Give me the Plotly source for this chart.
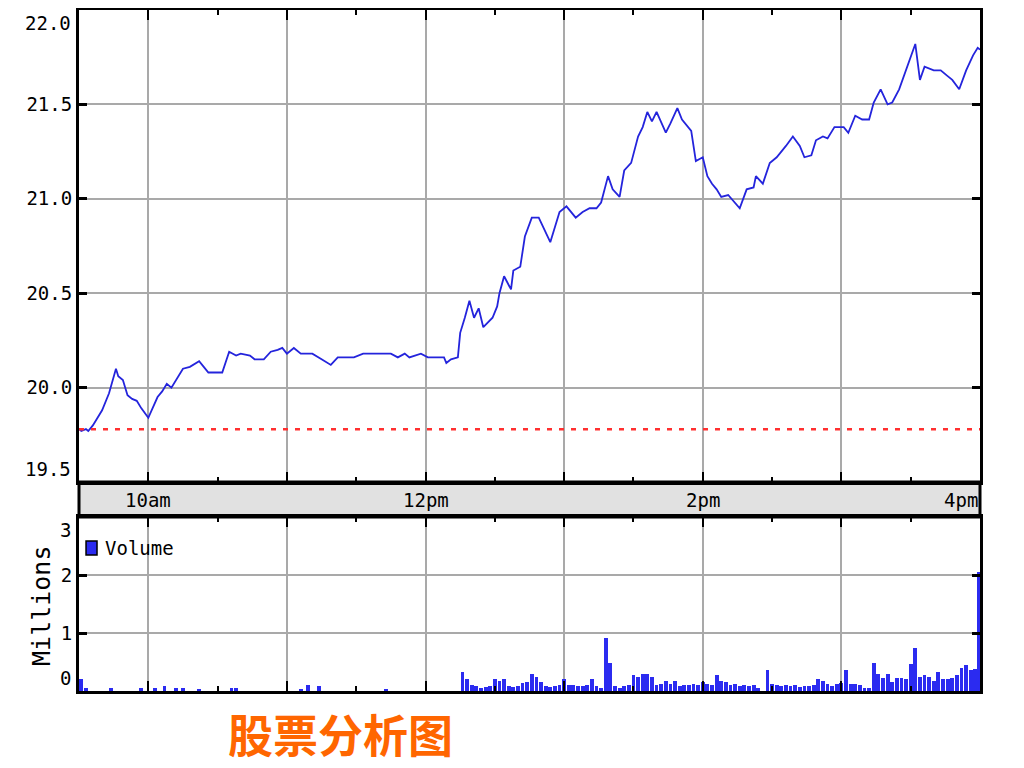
import plotly.graph_objects as go

DAY = "2024-01-02"

# ---- price series (time, price) ----
price_times = [
    "09:30", "09:31", "09:33", "09:34", "09:36", "09:40", "09:43", "09:45", "09:46", "09:47",
    "09:49", "09:51", "09:53", "09:55", "09:57", "10:00", "10:02", "10:04", "10:06", "10:08",
    "10:10", "10:12", "10:15", "10:18", "10:22", "10:24", "10:26", "10:32", "10:35", "10:38",
    "10:40", "10:44", "10:46", "10:50", "10:53", "10:56", "10:58", "11:00", "11:03", "11:06",
    "11:11", "11:15", "11:19", "11:22", "11:25", "11:29", "11:33", "11:40", "11:45", "11:48",
    "11:51", "11:53", "11:58", "12:01", "12:08", "12:09", "12:11", "12:14", "12:15", "12:17",
    "12:19", "12:21", "12:23", "12:25", "12:29", "12:31", "12:32", "12:34", "12:37", "12:38",
    "12:41", "12:43", "12:46", "12:49", "12:52", "12:54", "12:58", "13:01", "13:05", "13:08",
    "13:11", "13:14", "13:16", "13:19", "13:21", "13:24", "13:26", "13:29", "13:32", "13:34",
    "13:36", "13:38", "13:40", "13:44", "13:46", "13:49", "13:51", "13:55", "13:57", "14:00",
    "14:02", "14:04", "14:06", "14:08", "14:11", "14:14", "14:16", "14:19", "14:22", "14:23",
    "14:26", "14:29", "14:32", "14:36", "14:39", "14:42", "14:44", "14:47", "14:49", "14:52",
    "14:54", "14:57", "15:01", "15:03", "15:06", "15:09", "15:12", "15:14", "15:17", "15:20",
    "15:22", "15:25", "15:28", "15:32", "15:34", "15:36", "15:40", "15:43", "15:46", "15:48",
    "15:51", "15:53", "15:54", "15:57", "15:59", "16:00",
]
price_values = [
    19.78, 19.77, 19.78, 19.77, 19.80, 19.88, 19.97, 20.05, 20.10, 20.06,
    20.04, 19.96, 19.94, 19.93, 19.89, 19.84, 19.90, 19.95, 19.98, 20.02,
    20.00, 20.04, 20.10, 20.11, 20.14, 20.11, 20.08, 20.08, 20.19, 20.17,
    20.18, 20.17, 20.15, 20.15, 20.19, 20.20, 20.21, 20.18, 20.21, 20.18,
    20.18, 20.15, 20.12, 20.16, 20.16, 20.16, 20.18, 20.18, 20.18, 20.16,
    20.18, 20.16, 20.18, 20.16, 20.16, 20.13, 20.15, 20.16, 20.29, 20.37,
    20.46, 20.37, 20.42, 20.32, 20.37, 20.43, 20.50, 20.59, 20.52, 20.62,
    20.64, 20.80, 20.90, 20.90, 20.82, 20.77, 20.93, 20.96, 20.90, 20.93,
    20.95, 20.95, 20.98, 21.12, 21.05, 21.01, 21.15, 21.19, 21.33, 21.38,
    21.46, 21.41, 21.46, 21.35, 21.40, 21.48, 21.42, 21.36, 21.20, 21.22,
    21.12, 21.08, 21.05, 21.01, 21.02, 20.98, 20.95, 21.05, 21.06, 21.12,
    21.08, 21.19, 21.22, 21.28, 21.33, 21.28, 21.22, 21.23, 21.31, 21.33,
    21.32, 21.38, 21.38, 21.35, 21.44, 21.42, 21.42, 21.51, 21.58, 21.50,
    21.51, 21.58, 21.68, 21.82, 21.63, 21.70, 21.68, 21.68, 21.65, 21.63,
    21.58, 21.65, 21.68, 21.76, 21.80, 21.79,
]
prev_close = 19.78

# ---- volume series (time, millions) ----
vol_times = [
    "09:31", "09:33", "09:44", "09:57", "10:03", "10:07", "10:12", "10:15", "10:22", "10:36",
    "10:38", "11:06", "11:09", "11:14", "11:43",
    "12:16", "12:18", "12:20", "12:22", "12:24", "12:26", "12:28", "12:30", "12:32", "12:34",
    "12:36", "12:38", "12:40", "12:42", "12:44", "12:46", "12:48", "12:50", "12:52", "12:54",
    "12:56", "12:58", "13:00", "13:02", "13:04", "13:06", "13:08", "13:10", "13:12", "13:14",
    "13:16", "13:18", "13:20", "13:22", "13:24", "13:26", "13:28", "13:30", "13:32", "13:34",
    "13:36", "13:38", "13:40", "13:42", "13:44", "13:46", "13:48", "13:50", "13:52", "13:54",
    "13:56", "13:58", "14:00", "14:02", "14:04", "14:06", "14:08", "14:10", "14:12", "14:14",
    "14:16", "14:18", "14:20", "14:22", "14:24", "14:28", "14:30", "14:32", "14:34", "14:36",
    "14:38", "14:40", "14:42", "14:44", "14:46", "14:48", "14:50", "14:52", "14:54", "14:56",
    "14:58", "15:00", "15:02", "15:04", "15:06", "15:08", "15:10", "15:12", "15:14", "15:16",
    "15:18", "15:20", "15:22", "15:24", "15:26", "15:28", "15:30", "15:32", "15:34", "15:36",
    "15:38", "15:40", "15:42", "15:44", "15:46", "15:48", "15:50", "15:52", "15:54", "15:56",
    "15:58", "15:59:30",
]
vol_values = [
    0.20, 0.06, 0.05, 0.05, 0.05, 0.085, 0.05, 0.05, 0.04, 0.05,
    0.05, 0.04, 0.10, 0.08, 0.04,
    0.33, 0.21, 0.10, 0.08, 0.06, 0.07, 0.08, 0.20, 0.18, 0.20,
    0.08, 0.07, 0.09, 0.13, 0.15, 0.30, 0.25, 0.15, 0.08, 0.07,
    0.08, 0.10, 0.20, 0.10, 0.11, 0.09, 0.08, 0.10, 0.20, 0.08,
    0.06, 0.91, 0.49, 0.08, 0.06, 0.08, 0.10, 0.28, 0.25, 0.30,
    0.30, 0.25, 0.10, 0.12, 0.18, 0.12, 0.17, 0.08, 0.11, 0.10,
    0.12, 0.10, 0.15, 0.12, 0.10, 0.27, 0.18, 0.16, 0.10, 0.12,
    0.08, 0.10, 0.08, 0.10, 0.06, 0.36, 0.12, 0.10, 0.09, 0.10,
    0.08, 0.10, 0.07, 0.09, 0.08, 0.10, 0.20, 0.18, 0.12, 0.08,
    0.12, 0.13, 0.36, 0.12, 0.12, 0.10, 0.06, 0.05, 0.49, 0.30,
    0.22, 0.30, 0.15, 0.22, 0.22, 0.20, 0.46, 0.74, 0.25, 0.28,
    0.25, 0.18, 0.33, 0.20, 0.20, 0.22, 0.28, 0.39, 0.45, 0.36,
    0.38, 2.05,
]

# ---- axes / labels ----
price_ticks = [19.5, 20.0, 20.5, 21.0, 21.5, 22.0]
price_tick_text = ["19.5", "20.0", "20.5", "21.0", "21.5", "22.0"]
vol_ticks = [0, 1, 2, 3]
vol_tick_text = ["0", "1", "2", "3"]
hour_ticks = ["10:00", "11:00", "12:00", "13:00", "14:00", "15:00", "16:00"]
half_ticks = ["10:30", "11:30", "12:30", "13:30", "14:30", "15:30"]
band_label_times = ["10:00", "12:00", "14:00", "16:00"]
band_labels = ["10am", "12pm", "2pm", "4pm"]
title_text = "股票分析图"


def ts(t):
    if len(t) == 5:
        t = t + ":00"
    return f"{DAY} {t}"


x_range = [ts("09:30"), ts("16:00")]
MONO = "DejaVu Sans Mono"
FS = 19
LINE_BLUE = "#2424dc"
BAR_BLUE = "#2b2bf0"
GRID = "#a9a9a9"

price_dom = [0.3069, 1.0]
vol_dom = [0.0, 0.2555]

fig = go.Figure()

fig.add_trace(go.Scatter(
    x=[ts(t) for t in price_times], y=price_values,
    mode="lines", line=dict(color=LINE_BLUE, width=1.8),
    xaxis="x", yaxis="y", showlegend=False, name="Price",
))
fig.add_trace(go.Scatter(
    x=x_range, y=[prev_close, prev_close],
    mode="lines", line=dict(color="#ff3030", width=2.5, dash="5px,7px"),
    xaxis="x", yaxis="y", showlegend=False, name="Prev close",
))
fig.add_trace(go.Bar(
    x=[ts(t) for t in vol_times], y=vol_values,
    marker=dict(color=BAR_BLUE, line=dict(width=0)),
    width=100 * 1000, xaxis="x2", yaxis="y2", showlegend=False, name="Volume",
))

common_x = dict(
    type="date", range=x_range, automargin=False,
    tickmode="array", tickvals=[ts(t) for t in hour_ticks],
    showticklabels=False, ticks="inside", ticklen=10, tickwidth=2, tickcolor="black",
    showgrid=True, gridcolor=GRID, gridwidth=2,
    showline=True, linecolor="black", linewidth=3, mirror="allticks",
    minor=dict(tickmode="array", tickvals=[ts(t) for t in half_ticks],
               ticks="inside", ticklen=5, tickwidth=2, tickcolor="black", showgrid=False),
    zeroline=False, fixedrange=True,
)


def inner(texts):
    # edge labels are drawn separately so they can sit inside the frame
    return [""] + list(texts[1:-1]) + [""]


fig.update_layout(
    width=1024, height=768,
    margin=dict(l=71, r=52, t=2, b=85, pad=0),
    paper_bgcolor="white", plot_bgcolor="white",
    bargap=0,
    showlegend=False,
    xaxis=dict(domain=[0, 1], anchor="y", **common_x),
    xaxis2=dict(domain=[0, 1], anchor="y2", **common_x),
    yaxis=dict(
        domain=price_dom, anchor="x", range=[19.5, 22.0], automargin=False,
        tickmode="array", tickvals=price_ticks, ticktext=inner(price_tick_text),
        ticks="inside", ticklen=8, tickwidth=3, tickcolor="black",
        tickfont=dict(family=MONO, size=FS, color="black"),
        showgrid=True, gridcolor=GRID, gridwidth=2,
        showline=True, linecolor="black", linewidth=3, mirror="allticks",
        zeroline=False, fixedrange=True,
    ),
    yaxis2=dict(
        domain=vol_dom, anchor="x2", range=[0, 3], automargin=False,
        tickmode="array", tickvals=vol_ticks, ticktext=inner(vol_tick_text),
        ticks="inside", ticklen=8, tickwidth=3, tickcolor="black",
        tickfont=dict(family=MONO, size=FS, color="black"),
        showgrid=True, gridcolor=GRID, gridwidth=2,
        showline=True, linecolor="black", linewidth=3, mirror="allticks",
        zeroline=False, fixedrange=True,
    ),
)

# edge tick labels (kept inside the frame like the reference)
for yref, vals, texts in (("y", price_ticks, price_tick_text), ("y2", vol_ticks, vol_tick_text)):
    fig.add_annotation(x=0, xref="paper", y=vals[0], yref=yref, text=texts[0],
                       showarrow=False, xanchor="right", yanchor="bottom", xshift=-6,
                       font=dict(family=MONO, size=FS, color="black"))
    fig.add_annotation(x=0, xref="paper", y=vals[-1], yref=yref, text=texts[-1],
                       showarrow=False, xanchor="right", yanchor="top", xshift=-6,
                       font=dict(family=MONO, size=FS, color="black"))

# grey time band between panels
fig.add_shape(type="rect", xref="paper", yref="paper",
              x0=0, x1=1, y0=vol_dom[1], y1=price_dom[0],
              fillcolor="#e1e1e1", line=dict(color="black", width=3), layer="below")

for t, lab in zip(band_label_times, band_labels):
    fig.add_annotation(
        x=ts(t), xref="x2", y=(vol_dom[1] + price_dom[0]) / 2, yref="paper",
        text=lab, showarrow=False,
        xanchor="right" if t == "16:00" else "center", yanchor="middle",
        font=dict(family=MONO, size=FS, color="black"),
    )

# volume legend
fig.add_shape(type="rect", xref="paper", yref="paper",
              x0=0.0078, x1=0.020, y0=0.1997, y1=0.2203,
              fillcolor=BAR_BLUE, line=dict(color="black", width=1.5))
fig.add_annotation(x=0.0265, xref="paper", y=0.2100, yref="paper",
                   text="Volume", showarrow=False, xanchor="left", yanchor="middle",
                   font=dict(family=MONO, size=FS, color="black"))

# y-axis title of volume panel
fig.add_annotation(x=-0.041, xref="paper", y=0.125, yref="paper",
                   text="Millions", showarrow=False, textangle=-90,
                   xanchor="center", yanchor="middle",
                   font=dict(family=MONO, size=25, color="black"))

# chart title below
fig.add_annotation(x=0.29, xref="paper", y=-0.0617, yref="paper",
                   text=f"<b>{title_text}</b>", showarrow=False,
                   xanchor="center", yanchor="middle",
                   font=dict(family="Noto Sans CJK SC", size=45, color="#ff6600"))

fig.write_html("out.html", config={"displayModeBar": False})
